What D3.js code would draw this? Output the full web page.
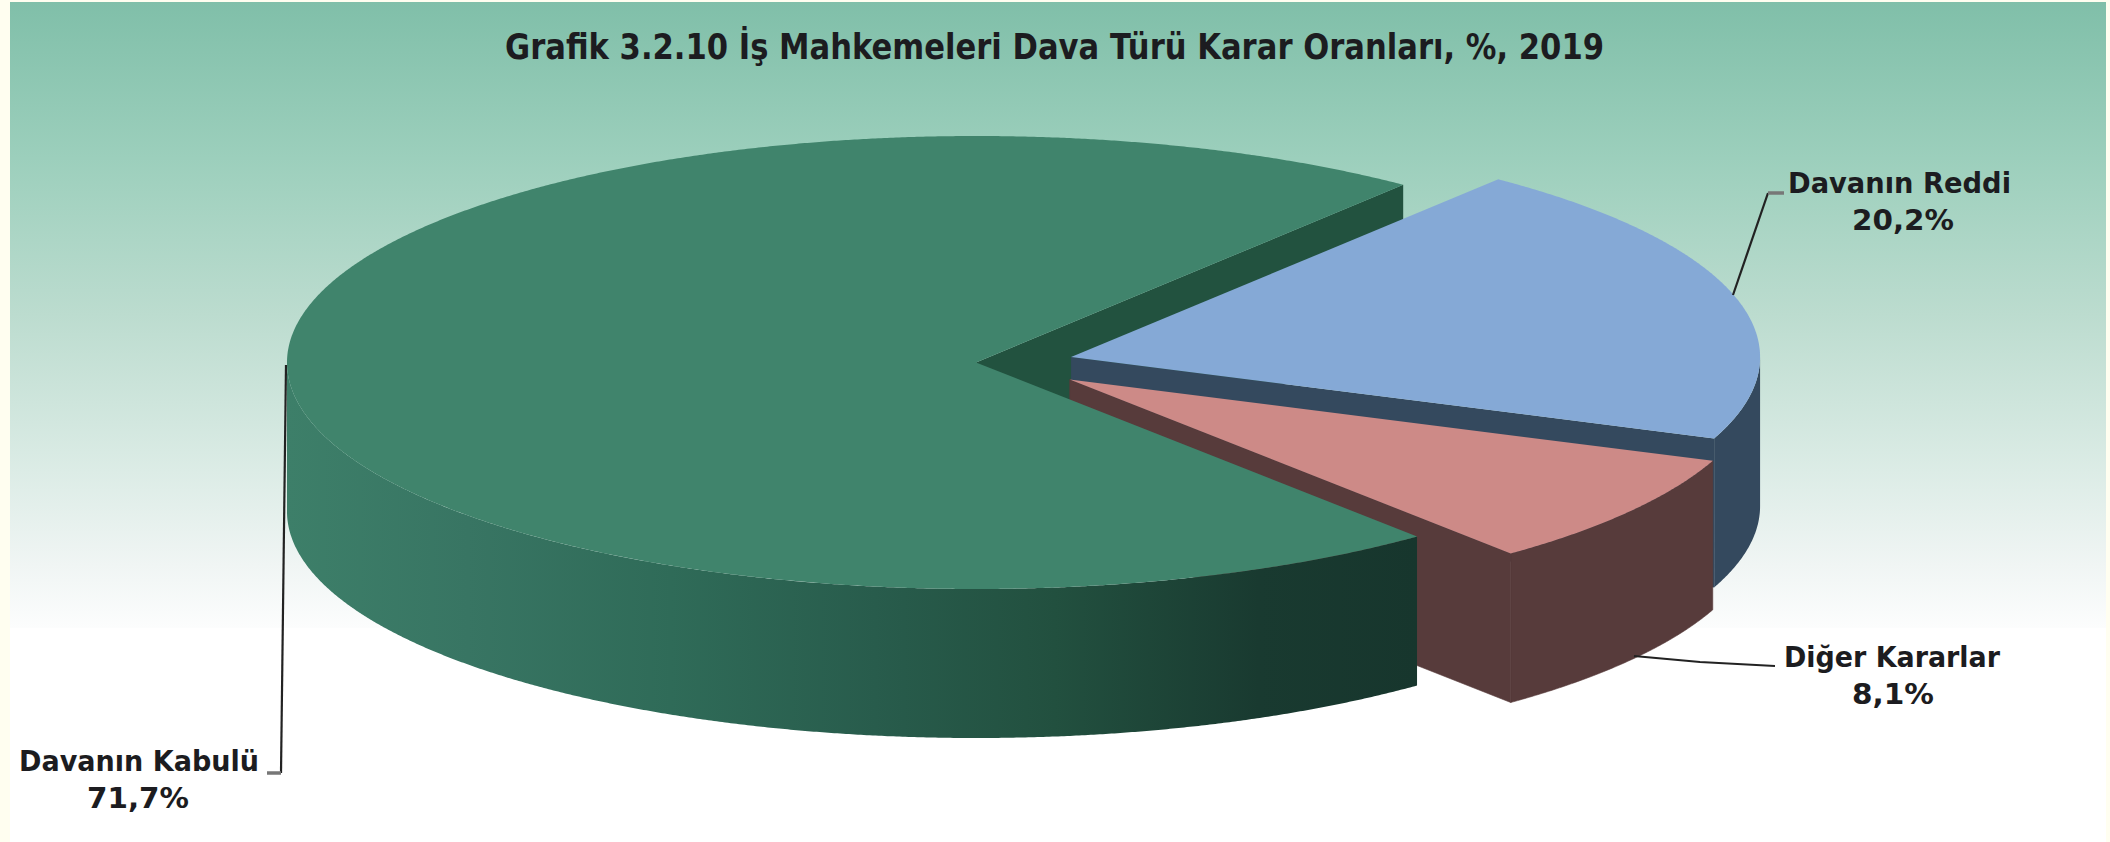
<!DOCTYPE html>
<html>
<head>
<meta charset="utf-8">
<style>
	html,body{margin:0;padding:0;background:#fffef0;}
	svg{display:block;}
	text{font-family:'DejaVu Sans',sans-serif;font-weight:bold;fill:#1c1c20;}
</style>
<script src="https://cdn.jsdelivr.net/npm/d3@7/dist/d3.min.js"></script>
</head>
<body>
<div id="plot"></div>
<script>
//Data
const categories = ['Davanın Kabulü', 'Davanın Reddi', 'Diğer Kararlar'];
const values = [71.7, 20.2, 8.1];
const valueLabels = ['71,7%', '20,2%', '8,1%'];
const title = 'Grafik 3.2.10 İş Mahkemeleri Dava Türü Karar Oranları, %, 2019';

//Prepare DOM
const w = 2110;
const h = 842;
const plot = d3.select('#plot').append('svg').attr('width', w).attr('height', h);
const defs = plot.append('defs');

//Pie geometry, the ellipse is a unit circle seen at a tilt
const cx = 976, cy = 362.5, rx = 689, ry = 226.5, depth = 149;
const x = d3.scaleLinear().domain([-1, 1]).range([cx - rx, cx + rx]);
const y = d3.scaleLinear().domain([-1, 1]).range([cy - ry, cy + ry]);
const rad = d => d * Math.PI / 180;

//Slices are pulled out of the pie by these unit offsets
const offsets = [[0, 0], [0.138, -0.024], [0.136, 0.075]];
const topColors = ['#40846c', '#85a9d6', '#cd8a87'];
const wallColors = ['url(#greenWall)', '#34495e', '#573b3b'];
const innerColors = ['#22523f', '#34495e', '#573b3b'];

const pie = d3.pie().sort(null).startAngle(rad(140.2)).endAngle(rad(140.2 + 360));
const slices = pie(values).map((d, i) => {
	//slices past the top of the circle are brought back to 0-360
	const shift = d.startAngle >= 2 * Math.PI ? 2 * Math.PI : 0;
	return {
		...d,
		startAngle: d.startAngle - shift,
		endAngle: d.endAngle - shift,
		dx: offsets[i][0],
		dy: offsets[i][1]
	};
});

const px = (d, a) => x(d.dx + Math.sin(a));
const py = (d, a) => y(d.dy - Math.cos(a));
const angles = (a0, a1) => {
	const n = Math.ceil((a1 - a0) / rad(0.25));
	return d3.range(n + 1).map(i => a0 + (a1 - a0) * i / n);
};

const closed = d3.line().curve(d3.curveLinearClosed);

function topPath(d){
	const pts = angles(d.startAngle, d.endAngle).map(a => [px(d, a), py(d, a)]);
	pts.push([x(d.dx), y(d.dy)]);
	return closed(pts);
}

//Curved outer wall, only the part facing the viewer (90 to 270 deg)
function outerWall(d){
	const a0 = Math.max(d.startAngle, rad(90));
	const a1 = Math.min(d.endAngle, rad(270));
	const arc = angles(a0, a1).map(a => [px(d, a), py(d, a)]);
	const lower = arc.slice().reverse().map(p => [p[0], p[1] + depth]);
	return closed(arc.concat(lower));
}

//Flat wall under a cut edge
function innerWall(d, a){
	const p0 = [x(d.dx), y(d.dy)];
	const p1 = [px(d, a), py(d, a)];
	return closed([p0, p1, [p1[0], p1[1] + depth], [p0[0], p0[1] + depth]]);
}

//Gradients
const bg = defs.append('linearGradient').attr('id', 'bgGrad')
	.attr('x1', 0).attr('x2', 0).attr('y1', 0).attr('y2', 1);
[[0, '#80bfa9'], [0.25, '#9ccfbc'], [0.5, '#bcdccf'], [0.75, '#dcece6'], [0.9, '#f0f5f4'], [1, '#fcfdfd']].forEach(s => {
	bg.append('stop').attr('offset', s[0]).attr('stop-color', s[1]);
});

const wall = defs.append('linearGradient').attr('id', 'greenWall')
	.attr('gradientUnits', 'userSpaceOnUse')
	.attr('x1', x(-1)).attr('x2', px(slices[0], slices[0].startAngle)).attr('y1', 0).attr('y2', 0);
[[0, '#3d7f69'], [0.16, '#387563'], [0.34, '#2f6b58'], [0.52, '#285c4c'], [0.68, '#22503f'], [0.86, '#193a30'], [1, '#17362d']].forEach(s => {
	wall.append('stop').attr('offset', s[0]).attr('stop-color', s[1]);
});

//Background panel
plot.append('rect').attr('x', 10).attr('y', 2).attr('width', 2096).attr('height', 626).attr('fill', 'url(#bgGrad)');
plot.append('rect').attr('x', 10).attr('y', 628).attr('width', 2096).attr('height', 214).attr('fill', '#ffffff');

//Draw back to front
const [green, blue, pink] = slices;
const pieG = plot.append('g');
const add = (dPath, fill) => pieG.append('path').attr('d', dPath).attr('fill', fill);

add(innerWall(green, green.endAngle), innerColors[0]);
add(outerWall(blue), wallColors[1]);
add(innerWall(blue, blue.endAngle), innerColors[1]);
add(topPath(blue), topColors[1]);
//thin stroke hides the seam between the two brown walls
add(outerWall(pink), wallColors[2]).attr('stroke', wallColors[2]).attr('stroke-width', 0.6);
add(innerWall(pink, pink.endAngle), innerColors[2]).attr('stroke', innerColors[2]).attr('stroke-width', 0.6);
add(topPath(pink), topColors[2]);
add(outerWall(green), wallColors[0]);
add(topPath(green), topColors[0]);

//Leader lines
const leaders = [
	[[286, 365], [281, 773]],
	[[1733, 295], [1768, 193]],
	[[1634, 656], [1700, 662], [1775, 666]]
];
plot.selectAll('.leader').data(leaders).enter().append('path')
	.attr('class', 'leader')
	.attr('d', d3.line())
	.attr('fill', 'none')
	.attr('stroke', '#222')
	.attr('stroke-width', 2.2);

//Short grey ends next to the labels
const leaderEnds = [
	[[281, 773], [267, 773]],
	[[1768, 193], [1784, 193]]
];
plot.selectAll('.leaderEnd').data(leaderEnds).enter().append('path')
	.attr('class', 'leaderEnd')
	.attr('d', d3.line())
	.attr('fill', 'none')
	.attr('stroke', '#777')
	.attr('stroke-width', 3.5);

//Text
plot.append('text')
	.attr('x', 505).attr('y', 59)
	.attr('font-size', 36)
	.attr('textLength', 1099).attr('lengthAdjust', 'spacingAndGlyphs')
	.text(title);

const labelPos = [
	{x: 19, y: 771, len: 240, cx: 138, y2: 808, len2: 102},
	{x: 1788, y: 193, len: 223, cx: 1903, y2: 230, len2: 102},
	{x: 1784, y: 667, len: 216, cx: 1893, y2: 704, len2: 82}
];
labelPos.forEach((p, i) => {
	plot.append('text')
		.attr('x', p.x).attr('y', p.y)
		.attr('font-size', 29)
		.attr('textLength', p.len).attr('lengthAdjust', 'spacingAndGlyphs')
		.text(categories[i]);
	plot.append('text')
		.attr('x', p.cx - p.len2 / 2).attr('y', p.y2)
		.attr('font-size', 29)
		.attr('textLength', p.len2).attr('lengthAdjust', 'spacingAndGlyphs')
		.text(valueLabels[i]);
});
</script>
</body>
</html>
